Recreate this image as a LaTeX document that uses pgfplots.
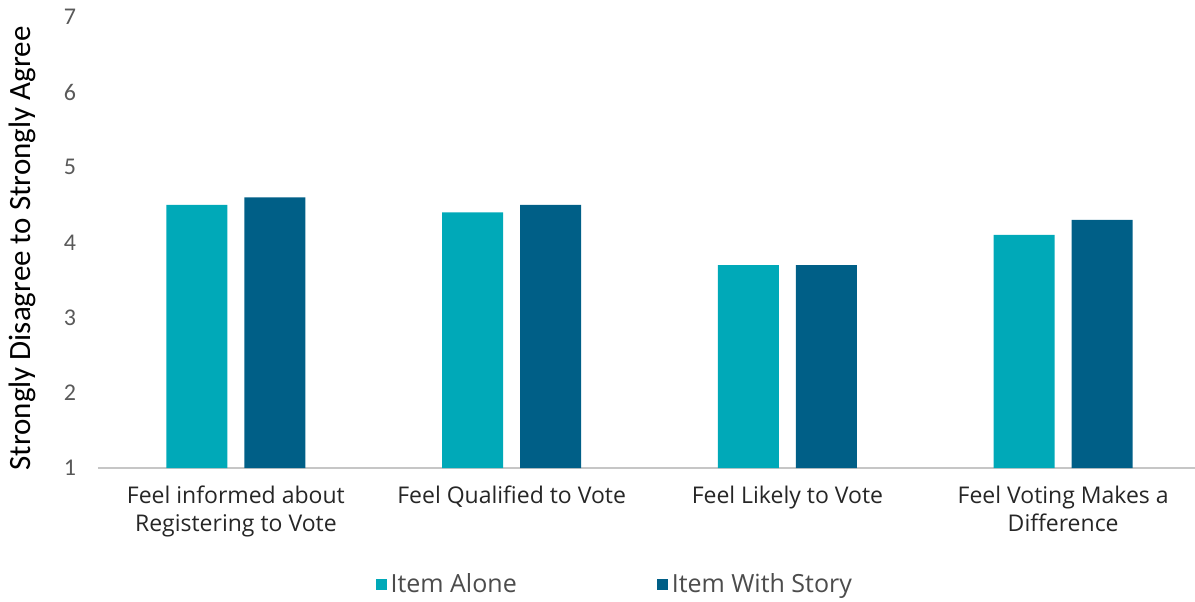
\documentclass[border=0pt]{standalone}
\usepackage{pgfplots}
\pgfplotsset{compat=1.18}
\usepackage{fontspec}
\setmainfont{Open Sans}
\newfontfamily\calib{Carlito}
\definecolor{tealA}{HTML}{00A9B8}
\definecolor{blueB}{HTML}{005F87}
\definecolor{tickgray}{HTML}{595959}
\begin{document}
\begin{tikzpicture}
\useasboundingbox (-49pt,-66.5pt) rectangle (548.5pt,234pt);
\begin{axis}[
  at={(0,0)}, anchor=south west,
  scale only axis,
  width=548.5pt, height=225.5pt,
  ymin=1, ymax=7, ytick={1,2,3,4,5,6,7},
  xmin=-0.5, xmax=3.478,
  xtick={0,1,2,3},
  xticklabels={{Feel informed about\\Registering to Vote},{Feel Qualified to Vote},{Feel Likely to Vote},{Feel Voting Makes a\\Difference}},
  xticklabel style={align=center, font=\fontsize{11.5}{14}\selectfont, text=black!85, yshift=-5.5pt},
  yticklabel style={font=\calib\fontsize{12}{13}\selectfont, text=tickgray, xshift=-7.5pt},
  /pgf/number format/assume math mode=true,
  major tick length=0pt,
  axis x line=bottom, axis y line=left,
  x axis line style={-, draw=gray!45, line width=0.8pt},
  y axis line style={draw=none},
  ylabel={Strongly Disagree to Strongly Agree},
  every axis y label/.style={at={(axis description cs:0,0.5)}, xshift=-38pt, yshift=-3pt, rotate=90, anchor=center,
    font=\calib\fontsize{15.5}{17}\selectfont, text=black},
  ybar=8.5pt, bar width=30.5pt,
  legend style={at={(axis description cs:0.472,-0.259)}, anchor=center, draw=none, legend columns=2,
    font=\fontsize{12.5}{14}\selectfont, text=black!70,
    /tikz/every even column/.append style={column sep=68pt}},
  legend image code/.code={\fill[#1] (0pt,-2.75pt) rectangle (5.5pt,2.75pt);},
]
\addplot[fill=tealA, draw=none] coordinates {(0,4.5) (1,4.4) (2,3.7) (3,4.1)};
\addplot[fill=blueB, draw=none] coordinates {(0,4.6) (1,4.5) (2,3.7) (3,4.3)};
\legend{Item Alone, Item With Story}
\end{axis}
\end{tikzpicture}
\end{document}
